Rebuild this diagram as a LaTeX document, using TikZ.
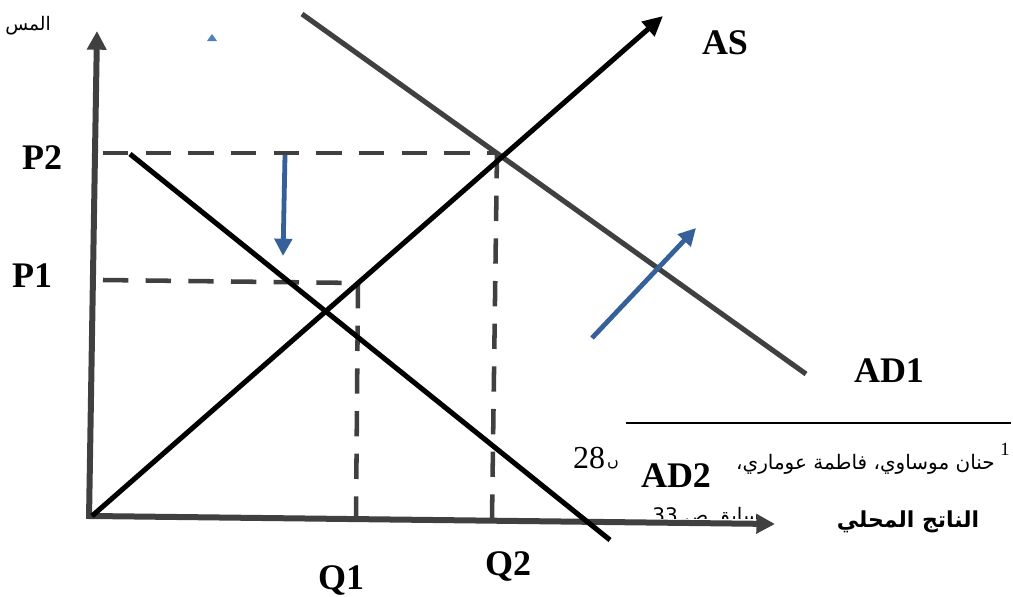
\documentclass[tikz,border=0pt]{standalone}
\usepackage{fontspec}
\setmainfont{Liberation Serif}
\newfontfamily\arabicfont[Script=Arabic]{DejaVu Sans}
\TeXXeTstate=1
\usetikzlibrary{arrows.meta}
\definecolor{axisgray}{HTML}{404040}
\definecolor{shiftblue}{HTML}{36609A}
\definecolor{markblue}{HTML}{4F81BD}
\tikzset{
  lbl/.style={font=\fontsize{27}{30}\selectfont\bfseries, inner sep=0pt},
  arlbl/.style={font=\arabicfont\bfseries\fontsize{16.5}{20}\selectfont, inner sep=0pt},
  arnote/.style={font=\arabicfont\fontsize{15}{18}\selectfont, inner sep=0pt},
  axisline/.style={draw=axisgray, line width=4.5pt, -{Triangle[length=14pt,width=14pt]}},
  aslinestyle/.style={draw=black, line width=3.8pt, -{Triangle[length=15pt,width=14pt]}},
  demand/.style={line width=3.8pt},
  guide/.style={draw=axisgray, line width=3.4pt, dash pattern=on 19pt off 13pt},
  shiftarrow/.style={draw=shiftblue, line width=3.6pt, -{Triangle[length=13pt,width=13pt]}},
}
\begin{document}
\begin{tikzpicture}[x=0.75pt,y=-0.75pt]
\useasboundingbox (0,0) rectangle (1013,596);
% key points
\coordinate (O) at (92,516);
\coordinate (ytop) at (97,31);
\coordinate (ybot) at (89,519);
\coordinate (xend) at (775,524);
\coordinate (asend) at (663,16);
\coordinate (ad1a) at (302,14);
\coordinate (ad1b) at (806,374);
\coordinate (ad2a) at (130,154);
\coordinate (ad2b) at (610,540);
\coordinate (p2a) at (103,153);
\coordinate (E2) at (497,153);
\coordinate (q2) at (492,519);
\coordinate (p1a) at (103,280);
\coordinate (E1) at (358,283);
\coordinate (q1) at (356,519);
\coordinate (bda) at (285,155);
\coordinate (bdb) at (283,256);
\coordinate (bua) at (592,338);
\coordinate (bub) at (696,228);
\coordinate (fl1) at (626,423);
\coordinate (fl2) at (1011,423);

% footnote material (behind the axis)
\begin{scope}
  \clip (600,480) rectangle (800,518);
  \node[arnote] (ref2) at (706,517) {\beginR سابق ص 33\endR};
\end{scope}
\draw[line width=1.5pt] (fl1) -- (fl2);
\node[arnote, anchor=east] (ref1) at (995,464) {\beginR حنان موساوي، فاطمة عوماري،\endR};
\node[font=\fontsize{14}{15}\selectfont, inner sep=0pt] (fnmark) at (1005,449) {1};
\node[font=\fontsize{24}{27}\selectfont, inner sep=0pt] (pg) at (589,458) {28};
\node[font=\arabicfont\fontsize{12}{14}\selectfont, inner sep=0pt] (pgr) at (613,465) {ں};

% axes
\draw[axisline] (ybot) -- (ytop);
\draw[axisline] (O) -- (xend);

% guides
\draw[guide] (p2a) -- (E2);
\draw[guide] (E2) -- (q2);
\draw[guide] (p1a) -- (E1);
\draw[guide] (E1) -- (q1);

% curves
\draw[draw=axisgray, demand] (ad1a) -- (ad1b);
\draw[draw=black, demand] (ad2a) -- (ad2b);
\draw[aslinestyle] (O) -- (asend);

% shift arrows
\draw[shiftarrow] (bda) -- (bdb);
\draw[shiftarrow] (bua) -- (bub);
\fill[markblue] (207,41) -- (212,34) -- (217,41) -- cycle;

% labels
\node[lbl] (lP2) at (42,158) {P2};
\node[lbl] (lP1) at (32,276) {P1};
\node[lbl] (lAS) at (725,43) {AS};
\node[lbl] (lAD1) at (889,371) {AD1};
\node[lbl] (lAD2) at (676,476) {AD2};
\node[lbl] (lQ1) at (341,580) {Q1};
\node[lbl] (lQ2) at (508,566) {Q2};
\node[arlbl] (lx) at (908,522) {\beginR الناتج المحلي\endR};
\node[font=\arabicfont\fontsize{14}{17}\selectfont, inner sep=0pt, anchor=west] (ly) at (5,26) {\beginR المس\endR};
\end{tikzpicture}
\end{document}
